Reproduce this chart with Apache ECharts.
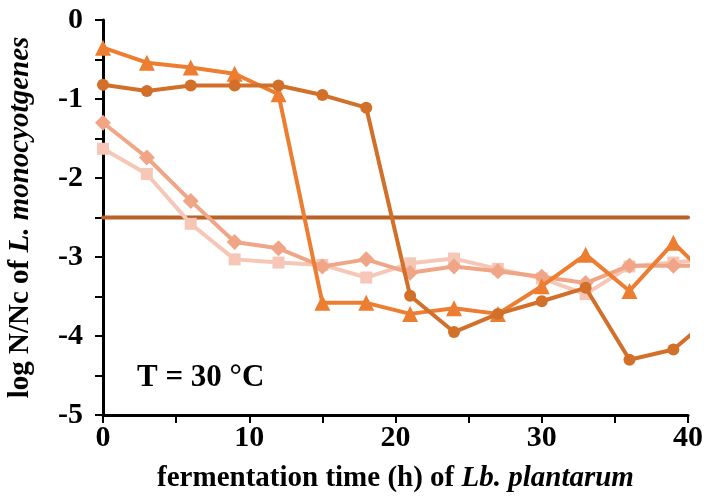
<!DOCTYPE html>
<html>
<head>
<meta charset="utf-8">
<script src="https://cdn.jsdelivr.net/npm/echarts@6/dist/echarts.min.js"></script>
<style>
  html, body { margin: 0; padding: 0; background: #fff; }
  #container { width: 706px; height: 502px; }
</style>
</head>
<body>
<div id="container"></div>
<script>
// sampling times (h); the last point lies past the axis end and gets clipped
var hours = [0, 3, 6, 9, 12, 15, 18, 21, 24, 27, 30, 33, 36, 39, 42];

var triangleVals = [-0.35, -0.54, -0.6, -0.68, -0.94, -3.58, -3.58, -3.72, -3.65, -3.72, -3.37, -2.97, -3.43, -2.82, -3.36];
var circleVals   = [-0.82, -0.9, -0.83, -0.83, -0.83, -0.95, -1.11, -3.49, -3.95, -3.72, -3.56, -3.39, -4.3, -4.17, -3.7];
var diamondVals  = [-1.3, -1.74, -2.29, -2.81, -2.89, -3.12, -3.03, -3.2, -3.12, -3.18, -3.25, -3.33, -3.11, -3.11, -3.11];
var squareVals   = [-1.63, -1.95, -2.58, -3.03, -3.07, -3.1, -3.26, -3.08, -3.02, -3.15, -3.27, -3.47, -3.12, -3.07, -3.02];

var limitLevel = -2.5;
var limitHours = [0, 40];

function pairs(xs, ys) {
    return xs.map(function (x, i) { return [x, ys[i]]; });
}

var serif = '"Liberation Serif", "Times New Roman", serif';

var charts = echarts.init(document.getElementById('container'));
var option = {
    backgroundColor: '#ffffff',
    animation: false,
    grid: { left: 103, right: 18, top: 20, bottom: 87, outerBoundsMode: 'none', containLabel: false },
    xAxis: {
        type: 'value',
        min: 0,
        max: 40,
        interval: 5,
        name: '{b|fermentation time (h) of }{i|Lb. plantarum}',
        nameLocation: 'middle',
        nameGap: 49,
        nameTextStyle: {
            rich: {
                b: { fontFamily: serif, fontWeight: 'bold', fontSize: 29, color: '#000' },
                i: { fontFamily: serif, fontWeight: 'bold', fontStyle: 'italic', fontSize: 29, color: '#000' }
            }
        },
        axisLine: { onZero: false, lineStyle: { color: '#000', width: 3 } },
        axisTick: { show: true, inside: false, length: 8, lineStyle: { color: '#000', width: 2 } },
        axisLabel: {
            margin: 8,
            fontFamily: serif,
            fontWeight: 'bold',
            fontSize: 30,
            color: '#000',
            formatter: function (v) { return v % 10 === 0 ? String(v) : ''; }
        },
        splitLine: { show: false }
    },
    yAxis: {
        type: 'value',
        min: -5,
        max: 0,
        interval: 0.5,
        name: '{b|log N/Nc of }{i|L. monocyotgenes}',
        nameLocation: 'middle',
        nameGap: 68,
        nameRotate: 90,
        nameTextStyle: {
            rich: {
                b: { fontFamily: serif, fontWeight: 'bold', fontSize: 29, color: '#000' },
                i: { fontFamily: serif, fontWeight: 'bold', fontStyle: 'italic', fontSize: 29, color: '#000' }
            }
        },
        axisLine: { show: true, onZero: false, lineStyle: { color: '#000', width: 3 } },
        axisTick: { show: true, inside: false, length: 8, lineStyle: { color: '#000', width: 2 } },
        axisLabel: {
            margin: 20,
            fontFamily: serif,
            fontWeight: 'bold',
            fontSize: 30,
            color: '#000',
            formatter: function (v) { return Math.abs(v % 1) < 1e-9 ? String(v) : ''; }
        },
        splitLine: { show: false }
    },
    graphic: [{
        type: 'text',
        left: 137,
        top: 362,
        style: {
            text: 'T = 30 °C',
            font: 'bold 31px ' + serif,
            fill: '#000'
        }
    }],
    series: [{
        name: 'limit',
        type: 'line',
        data: pairs(limitHours, [limitLevel, limitLevel]),
        symbol: 'none',
        lineStyle: { color: '#BA6127', width: 4, cap: 'round' },
        z: 1
    }, {
        name: 'square',
        type: 'line',
        data: pairs(hours, squareVals),
        symbol: 'rect',
        symbolSize: 12,
        itemStyle: { color: '#F6C7B6' },
        lineStyle: { color: '#F6C7B6', width: 4 },
        z: 2
    }, {
        name: 'diamond',
        type: 'line',
        data: pairs(hours, diamondVals),
        symbol: 'diamond',
        symbolSize: 16,
        itemStyle: { color: '#F0A686' },
        lineStyle: { color: '#F0A686', width: 4 },
        z: 3
    }, {
        name: 'triangle',
        type: 'line',
        data: pairs(hours, triangleVals),
        symbol: 'triangle',
        symbolSize: 16,
        itemStyle: { color: '#ED7D31' },
        lineStyle: { color: '#ED7D31', width: 4 },
        z: 4
    }, {
        name: 'circle',
        type: 'line',
        data: pairs(hours, circleVals),
        symbol: 'circle',
        symbolSize: 12,
        itemStyle: { color: '#D2702A' },
        lineStyle: { color: '#D2702A', width: 4 },
        z: 5
    }]
};
charts.setOption(option);
</script>
</body>
</html>
